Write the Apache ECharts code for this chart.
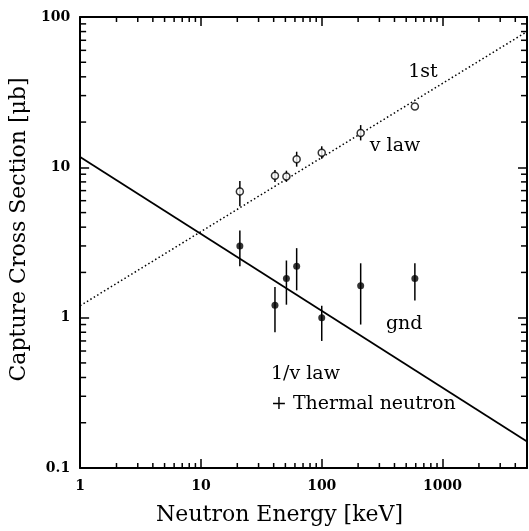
<!DOCTYPE html>
<html><head><meta charset="utf-8">
<script src="https://cdn.jsdelivr.net/npm/echarts@6/dist/echarts.min.js"></script>
<style>html,body{margin:0;padding:0;background:#fff}#c{width:529px;height:531px}</style>
</head><body><div id="c"></div>
<script>
// ---- data ----
const energy = [21, 41, 51, 62, 100, 210, 590];           // keV
const firstValues = [6.9, 8.8, 8.7, 11.3, 12.5, 16.9, 25.4];
const firstLow    = [5.5, 8.0, 8.0, 10.1, 11.4, 15.1, 25.4];
const firstHigh   = [8.1, 9.6, 9.5, 12.7, 13.8, 19.1, 25.4];
const gndValues = [3.0, 1.21, 1.82, 2.2, 1.0, 1.63, 1.82];
const gndLow    = [2.2, 0.8, 1.22, 1.52, 0.7, 0.9, 1.3];
const gndHigh   = [3.8, 1.6, 2.4, 2.9, 1.2, 2.3, 2.3];
const lawX = [1, 5000];
const vLaw = [1.2, 80];
const invVLaw = [11.7, 0.15];
const xMinorTicks = [2,3,4,5,6,7,8,9,20,30,40,50,60,70,80,90,200,300,400,500,600,700,800,900,2000,3000,4000];
const yMinorTicks = [0.2,0.3,0.4,0.5,0.6,0.7,0.8,0.9,2,3,4,5,6,7,8,9,20,30,40,50,60,70,80,90];
const annText = ['1st', 'v law', 'gnd', '1/v law', '+ Thermal neutron'];
const annX = [520, 250, 340, 38, 38];
const annY = [42.8, 13.9, 0.90, 0.423, 0.268];

const FONT = 'DejaVu Serif';
const chart = echarts.init(document.getElementById('c'), null, {renderer: 'canvas'});
const fmt = v => String(+(+v).toPrecision(6));

function errBars(vals, lo, hi) {
  return energy.map((x, i) => [x, lo[i], hi[i]]);
}
const errRender = (params, api) => {
  const p1 = api.coord([api.value(0), api.value(1)]);
  const p2 = api.coord([api.value(0), api.value(2)]);
  return {type: 'line', shape: {x1: p1[0], y1: p1[1], x2: p2[0], y2: p2[1]},
          style: {stroke: '#000', lineWidth: 1.5}};
};
const minorX = (params, api) => {
  const cs = params.coordSys;
  const p = api.coord([api.value(0), 1]);
  return {type: 'group', children: [
    {type: 'line', shape: {x1: p[0], y1: cs.y + cs.height, x2: p[0], y2: cs.y + cs.height - 5}, style: {stroke: '#000', lineWidth: 1.5}},
    {type: 'line', shape: {x1: p[0], y1: cs.y, x2: p[0], y2: cs.y + 5}, style: {stroke: '#000', lineWidth: 1.5}}
  ]};
};
const minorY = (params, api) => {
  const cs = params.coordSys;
  const p = api.coord([1, api.value(1)]);
  return {type: 'group', children: [
    {type: 'line', shape: {x1: cs.x, y1: p[1], x2: cs.x + 6, y2: p[1]}, style: {stroke: '#000', lineWidth: 1.5}},
    {type: 'line', shape: {x1: cs.x + cs.width, y1: p[1], x2: cs.x + cs.width - 6, y2: p[1]}, style: {stroke: '#000', lineWidth: 1.5}}
  ]};
};

const axisCommon = {
  axisLine: {show: true, lineStyle: {color: '#000', width: 2}},
  axisTick: {show: true, inside: true, length: 9, lineStyle: {color: '#000', width: 1.5}},
  splitLine: {show: false}, minorTick: {show: false}
};

chart.setOption({
  animation: false,
  backgroundColor: '#fff',
  grid: {left: 77, right: 2, top: 17, bottom: 60},
  xAxis: [
    Object.assign({type: 'log', logBase: 10, min: 1, max: 5000, position: 'bottom',
      name: 'Neutron Energy [keV]', nameLocation: 'middle', nameGap: 36,
      nameTextStyle: {fontFamily: FONT, fontSize: 22, color: '#000', padding: [0, 48, 0, 0]},
      axisLabel: {formatter: fmt, showMaxLabel: false, margin: 11, fontFamily: FONT, fontSize: 14, fontWeight: 'bold', color: '#000'}}, axisCommon),
    Object.assign({type: 'log', logBase: 10, min: 1, max: 5000, position: 'top', axisLabel: {show: false}}, axisCommon)
  ],
  yAxis: [
    Object.assign({type: 'log', logBase: 10, min: 0.1, max: 100, position: 'left',
      name: 'Capture Cross Section [μb]', nameLocation: 'middle', nameGap: 44, nameRotate: 90,
      nameTextStyle: {fontFamily: FONT, fontSize: 22, color: '#000', padding: [0, 0, 0, 26]},
      axisLabel: {formatter: fmt, margin: 10, fontFamily: FONT, fontSize: 14, fontWeight: 'bold', color: '#000'}}, axisCommon),
    Object.assign({type: 'log', logBase: 10, min: 0.1, max: 100, position: 'right', axisLabel: {show: false}}, axisCommon)
  ],
  series: [
    {type: 'line', data: lawX.map((x, i) => [x, invVLaw[i]]), showSymbol: false, symbol: 'none',
     lineStyle: {color: '#000', width: 1.8}, z: 3},
    {type: 'line', data: lawX.map((x, i) => [x, vLaw[i]]), showSymbol: false, symbol: 'none',
     lineStyle: {color: '#000', width: 1.5, type: [1.5, 2.5]}, z: 3},
    {type: 'custom', renderItem: errRender, data: errBars(firstValues, firstLow, firstHigh), z: 4},
    {type: 'custom', renderItem: errRender, data: errBars(gndValues, gndLow, gndHigh), z: 4},
    {type: 'scatter', data: energy.map((x, i) => [x, firstValues[i]]), symbol: 'circle', symbolSize: 7,
     itemStyle: {color: '#fff', borderColor: '#000', borderWidth: 1.5}, z: 5},
    {type: 'scatter', data: energy.map((x, i) => [x, gndValues[i]]), symbol: 'circle', symbolSize: 7,
     itemStyle: {color: '#000'}, z: 5},
    {type: 'custom', renderItem: minorX, data: xMinorTicks.map(v => [v, 1]), silent: true},
    {type: 'custom', renderItem: minorY, data: yMinorTicks.map(v => [1, v]), silent: true},
    {type: 'scatter', symbolSize: 0, silent: true,
     data: annText.map((t, i) => ({value: [annX[i], annY[i]], name: t})),
     itemStyle: {color: '#000', opacity: 1},
     label: {show: true, position: 'right', distance: 0, formatter: p => p.name,
             fontFamily: FONT, fontSize: 19, color: '#000', opacity: 1}}
  ]
});
</script>
</body></html>
